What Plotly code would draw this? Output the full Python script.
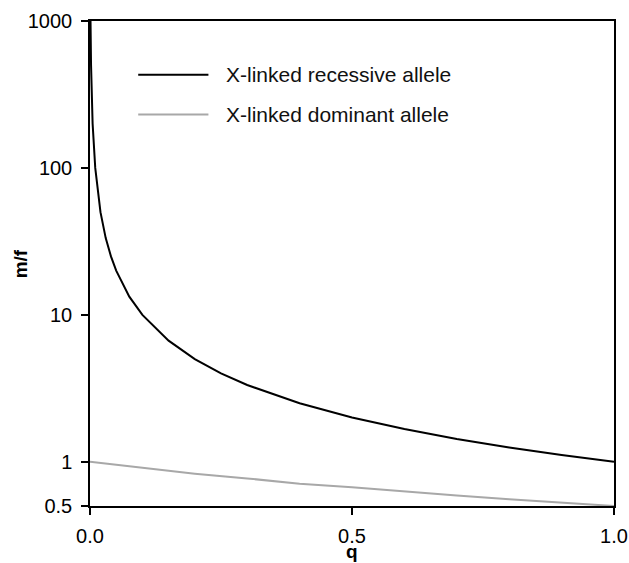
import plotly.graph_objects as go

# q values and m/f ratios
q_recessive = [0.001, 0.002, 0.005, 0.01, 0.02, 0.03, 0.04, 0.05, 0.075, 0.1, 0.15, 0.2, 0.25,
               0.3, 0.4, 0.5, 0.6, 0.7, 0.8, 0.9, 1.0]
mf_recessive = [1000, 500, 200, 100, 50, 33.3, 25, 20, 13.3, 10, 6.67, 5, 4,
                3.33, 2.5, 2, 1.67, 1.43, 1.25, 1.11, 1.0]

q_dominant = [0.0, 0.1, 0.2, 0.3, 0.4, 0.5, 0.6, 0.7, 0.8, 0.9, 1.0]
mf_dominant = [1.0, 0.91, 0.83, 0.77, 0.71, 0.67, 0.625, 0.59, 0.555, 0.526, 0.5]

series_names = ["X-linked recessive allele", "X-linked dominant allele"]
series_colors = ["#000000", "#a8a8a8"]

x_ticks = [0.0, 0.5, 1.0]
x_tick_labels = ["0.0", "0.5", "1.0"]
y_ticks = [0.5, 1, 10, 100, 1000]
y_tick_labels = ["0.5", "1", "10", "100", "1000"]
x_title = "q"
y_title = "m/f"

FONT = "Liberation Sans, Arial, Helvetica, sans-serif"

fig = go.Figure()
fig.add_trace(go.Scatter(x=q_recessive, y=mf_recessive, mode="lines",
                         line=dict(color=series_colors[0], width=2), name=series_names[0],
                         showlegend=False))
fig.add_trace(go.Scatter(x=q_dominant, y=mf_dominant, mode="lines",
                         line=dict(color=series_colors[1], width=2), name=series_names[1],
                         showlegend=False))

# custom legend (inside plot)
legend_y = [0.889, 0.807]
for name, color, ly in zip(series_names, series_colors, legend_y):
    fig.add_shape(type="line", xref="paper", yref="paper", x0=0.092, x1=0.226, y0=ly, y1=ly,
                  line=dict(color=color, width=2))
    fig.add_annotation(xref="paper", yref="paper", x=0.255, y=ly, text=name, showarrow=False,
                       xanchor="left", yanchor="middle", font=dict(family=FONT, size=21, color="#111"))

# axis titles as annotations for exact placement
fig.add_annotation(xref="paper", yref="paper", x=0.5, y=-0.094, text="<b>" + x_title + "</b>",
                   showarrow=False, xanchor="center", yanchor="middle",
                   font=dict(family=FONT, size=19, color="#000"))
fig.add_annotation(xref="paper", yref="paper", x=-0.132, y=0.5, text="<b>" + y_title + "</b>",
                   showarrow=False, xanchor="center", yanchor="middle", textangle=-90,
                   font=dict(family=FONT, size=19, color="#000"))

fig.update_layout(
    width=629, height=563,
    margin=dict(l=90, r=15, t=21, b=57),
    plot_bgcolor="white", paper_bgcolor="white",
    font=dict(family=FONT, size=20, color="#000"),
    showlegend=False,
)
fig.update_xaxes(range=[0, 1], tickvals=x_ticks, ticktext=x_tick_labels, automargin=False,
                 showline=True, linecolor="black", linewidth=1.5, mirror=True,
                 ticks="outside", ticklen=7, tickwidth=1.5, tickcolor="black",
                 ticklabelstandoff=4,
                 showgrid=False, zeroline=False, ticklabeloverflow="allow")
fig.update_yaxes(type="log", range=[-0.30103, 3], tickvals=y_ticks, ticktext=y_tick_labels,
                 automargin=False,
                 showline=True, linecolor="black", linewidth=1.5, mirror=True,
                 ticks="outside", ticklen=7, tickwidth=1.5, tickcolor="black",
                 ticklabelstandoff=5,
                 showgrid=False, zeroline=False, ticklabeloverflow="allow")

page_js = (
    "var s=document.documentElement.style;s.margin='0';s.padding='0';s.overflow='hidden';"
    "var b=document.body.style;b.margin='0';b.padding='0';b.overflow='hidden';"
)
fig.write_html("out.html", config={"displayModeBar": False}, post_script=page_js)
